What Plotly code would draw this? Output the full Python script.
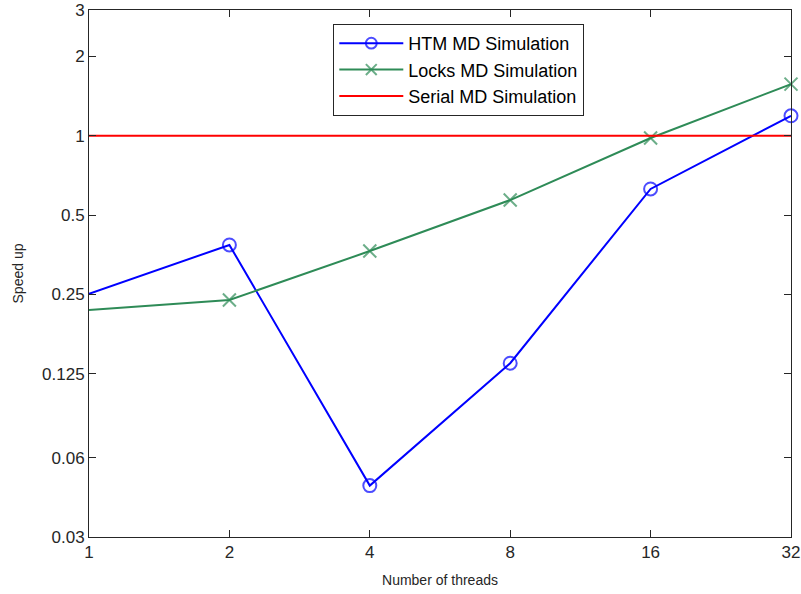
import plotly.graph_objects as go

threads = [1, 2, 4, 8, 16, 32]
htm_speedup = [0.251, 0.385, 0.047, 0.137, 0.628, 1.19]
locks_speedup = [0.218, 0.238, 0.365, 0.570, 0.98, 1.57]
serial_speedup = [1, 1, 1, 1, 1, 1]
y_tick_vals = [0.03, 0.06, 0.125, 0.25, 0.5, 1, 2, 3]
y_tick_text = ["0.03", "0.06", "0.125", "0.25", "0.5", "1", "2", "3"]
x_tick_text = ["1", "2", "4", "8", "16", "32"]

FONT = "Liberation Sans, Arial, sans-serif"
marker_sizes_htm = [0] + [13] * (len(threads) - 1)
marker_sizes_locks = [0] + [13] * (len(threads) - 1)

fig = go.Figure()
fig.add_trace(go.Scatter(
    x=threads, y=htm_speedup, mode="lines+markers", name="HTM MD Simulation",
    line=dict(color="#0000ff", width=2),
    marker=dict(symbol="circle-open", size=marker_sizes_htm, color="#0000ff",
                line=dict(width=2, color="#0000ff")),
    legendgroup="a", cliponaxis=False))
fig.add_trace(go.Scatter(
    x=threads, y=locks_speedup, mode="lines+markers", name="Locks MD Simulation",
    line=dict(color="#2e8b57", width=2),
    marker=dict(symbol="x-thin-open", size=marker_sizes_locks, color="#2e8b57",
                line=dict(width=2, color="#2e8b57")),
    legendgroup="b", cliponaxis=False))
fig.add_trace(go.Scatter(
    x=threads, y=serial_speedup, mode="lines", name="Serial MD Simulation",
    line=dict(color="#ff0000", width=2), legendgroup="c"))

axis_common = dict(
    showgrid=False, zeroline=False, showline=True, linecolor="#262626", linewidth=1,
    mirror="ticks", ticks="inside", ticklen=7, tickcolor="#262626", tickwidth=1,
    tickfont=dict(family=FONT, size=17, color="#262626"), automargin=False,
)

fig.update_layout(
    width=801, height=594,
    margin=dict(l=89, r=10, t=10, b=57),
    paper_bgcolor="white", plot_bgcolor="white",
    font=dict(family=FONT, color="#262626"),
    xaxis=dict(type="log", range=[0, 1.50515], tickvals=threads, ticktext=x_tick_text,
               title=dict(text="Number of threads", font=dict(size=14), standoff=13),
               **axis_common),
    yaxis=dict(type="log", range=[-1.52288, 0.47712], tickvals=y_tick_vals,
               ticktext=y_tick_text,
               title=dict(text="Speed up", font=dict(size=14), standoff=15),
               **axis_common),
    legend=dict(x=0.348, y=0.9735, xanchor="left", yanchor="top",
                bgcolor="white", bordercolor="#262626", borderwidth=1,
                font=dict(family=FONT, size=18, color="black"),
                traceorder="grouped", tracegroupgap=0, itemwidth=64),
    showlegend=True,
)

fig.write_html("out.html", config={"displayModeBar": False},
               post_script="document.body.style.margin='0';document.body.style.overflow='hidden';")
